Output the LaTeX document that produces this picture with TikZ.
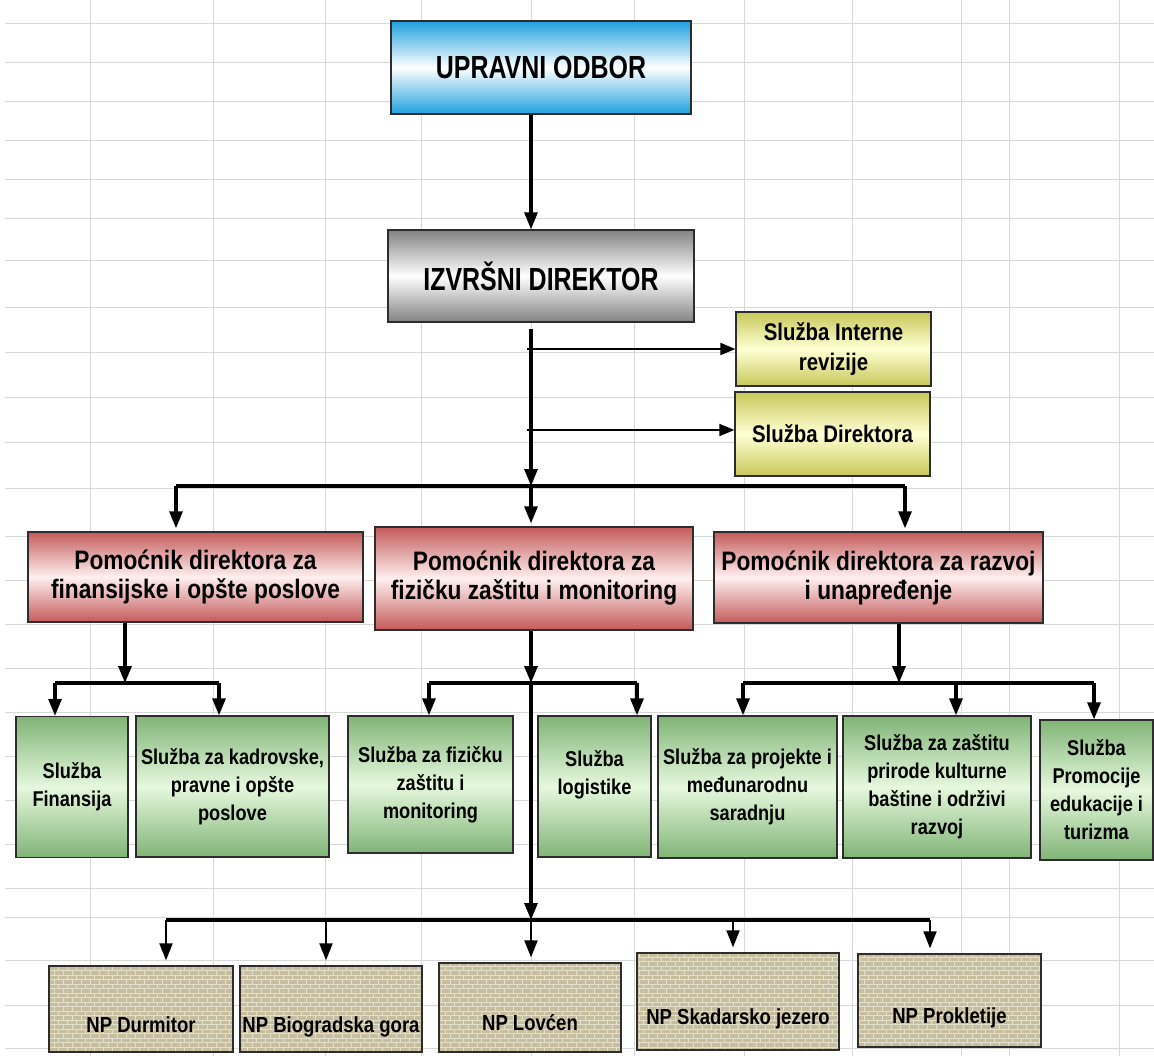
\documentclass[tikz,border=0pt]{standalone}
\usepackage{fontspec}
\setmainfont{Liberation Sans}[FakeStretch=0.85]
\newfontfamily\headfont{Liberation Sans}[FakeStretch=0.78]
\usetikzlibrary{arrows.meta,patterns,positioning}

\definecolor{gridgray}{RGB}{216,216,216}
\definecolor{boardblue}{RGB}{30,160,222}
\definecolor{chiefgray}{RGB}{130,130,130}
\definecolor{officeyellow}{RGB}{200,200,90}
\definecolor{officelight}{RGB}{255,255,212}
\definecolor{deputyred}{RGB}{196,90,90}
\definecolor{deputylight}{RGB}{255,240,240}
\definecolor{unitgreen}{RGB}{128,180,118}
\definecolor{unitlight}{RGB}{230,248,222}
\definecolor{parkbase}{RGB}{198,190,158}
\definecolor{parklight}{RGB}{228,224,206}
\definecolor{boxedge}{RGB}{45,45,45}

\pgfdeclarepatternformonly{parkbricks}{\pgfpoint{-0.5pt}{-0.5pt}}{\pgfpoint{9.5pt}{9.5pt}}{\pgfpoint{9pt}{9pt}}{
  \pgfsetlinewidth{0.8pt}
  \pgfpathmoveto{\pgfpoint{0pt}{0pt}}\pgfpathlineto{\pgfpoint{9pt}{0pt}}
  \pgfpathmoveto{\pgfpoint{0pt}{4.5pt}}\pgfpathlineto{\pgfpoint{9pt}{4.5pt}}
  \pgfpathmoveto{\pgfpoint{0pt}{0pt}}\pgfpathlineto{\pgfpoint{0pt}{4.5pt}}
  \pgfpathmoveto{\pgfpoint{4.5pt}{4.5pt}}\pgfpathlineto{\pgfpoint{4.5pt}{9pt}}
  \pgfusepath{stroke}
}

\begin{document}
\begin{tikzpicture}[
    x=1pt, y=-1pt,
    gridline/.style={
		draw=gridgray,
		line width=0.9pt
	},
    block/.style={
		rectangle,
		draw=boxedge,
		line width=1.3pt,
		text centered,
		align=center,
		inner sep=2pt
	},
    board/.style={
		block,
		font=\headfont\bfseries\fontsize{32}{36}\selectfont,
		top color=boardblue,
		bottom color=boardblue,
		middle color=white,
		minimum width=300pt,
		minimum height=93pt
	},
    chief/.style={
		block,
		font=\headfont\bfseries\fontsize{32}{36}\selectfont,
		top color=chiefgray,
		bottom color=chiefgray,
		middle color=white
	},
    office/.style={
		block,
		font=\bfseries\fontsize{24}{30}\selectfont,
		top color=officeyellow,
		bottom color=officeyellow,
		middle color=officelight,
		minimum width=195pt,
		minimum height=74pt
	},
    deputy/.style={
		block,
		font=\bfseries\fontsize{26.7}{29}\selectfont,
		top color=deputyred,
		bottom color=deputyred,
		middle color=deputylight
	},
    unitbox/.style={
		block,
		font=\bfseries\fontsize{21.4}{28}\selectfont,
		top color=unitgreen,
		bottom color=unitgreen,
		middle color=unitlight,
		minimum height=141pt
	},
    parkbox/.style={
		block,
		font=\bfseries\fontsize{21.8}{26}\selectfont,
		preaction={fill=parkbase},
		pattern=parkbricks,
		pattern color=parklight,
		text height=46pt,
		text depth=0pt,
		minimum height=86pt
	},
    arr/.style={
		-{Triangle[width=13pt,length=17pt]},
		line width=3.1pt
	},
    tap/.style={
		-{Triangle[width=12pt,length=15pt]},
		line width=1.8pt
	},
    stub/.style={
		-{Triangle[width=13pt,length=17pt]},
		line width=1.9pt,
		shorten >=5pt
	},
    bar/.style={
		line width=3.2pt
	}
  ]
    % the sheet behind the chart
  \useasboundingbox (0,0) rectangle (1154,1056);
  \fill [white] (0,0) rectangle (1154,1056);
  \foreach \gx in {90,213,325,421,531,634,744,852,961,1009,1119}
    \draw [gridline] (\gx,0) -- (\gx,1056);
  \foreach \gy in {23,62,101,140,179,218,260,307,352,397,442,488,536,580,624,668,712,756,800,844,888,917,960,1005,1048}
    \draw [gridline] (5,\gy) -- (1154,\gy);

    % We start by placing the blocks
  \node [board] (upravni) at (541,67.5) {UPRAVNI ODBOR};

  \node [chief, minimum width=306pt, minimum height=92pt] (izvrsni) at (541,276) {IZVRŠNI DIREKTOR};

  \node [office] (interne) at (833.5,349) {Služba Interne\\revizije};
  \node [office, minimum height=84pt] (direktora) at (832.5,434) {Služba Direktora};

  \node [deputy, minimum width=335pt, minimum height=90pt] (pomfin) at (195.5,577)
 {Pomoćnik direktora za\\finansijske i opšte poslove};
  \node [deputy, minimum width=318pt, minimum height=103pt] (pomfiz) at (534,578.5)
 {Pomoćnik direktora za\\fizičku zaštitu i monitoring};
  \node [deputy, minimum width=329pt, minimum height=91pt] (pomraz) at (878.5,577.5)
 {Pomoćnik direktora za razvoj\\i unapređenje};

  \node [unitbox, minimum width=112pt] (finansija) at (72,787) {Služba\\Finansija};
  \node [unitbox, minimum width=193pt] (kadrovske) at (232.5,786.5) {Služba za kadrovske,\\pravne i opšte\\poslove};
  \node [unitbox, minimum width=165pt, minimum height=137pt] (fizicka) at (430.5,784.5) {Služba za fizičku\\zaštitu i\\monitoring};
  \node [unitbox, minimum width=113pt] (logistika) at (594.5,786.5) {Služba\\logistike\\\mbox{}};
  \node [unitbox, minimum width=179pt, minimum height=142pt] (projekti) at (747.5,787) {Služba za projekte i\\međunarodnu\\saradnju};
  \node [unitbox, minimum width=188pt, minimum height=142pt] (zastita) at (937,787) {Služba za zaštitu\\prirode kulturne\\baštine i održivi\\razvoj};
  \node [unitbox, minimum width=113pt, minimum height=140pt] (promocija) at (1096.5,790) {Služba\\Promocije\\edukacije i\\turizma};

  \node [parkbox, minimum width=184pt] (durmitor) at (141,1009) {NP Durmitor};
  \node [parkbox, minimum width=182pt] (biogradska) at (331,1009) {NP Biogradska gora};
  \node [parkbox, minimum width=182pt, minimum height=89pt] (lovcen) at (530,1007.5) {NP Lovćen};
  \node [parkbox, minimum width=202pt, minimum height=97pt] (skadarsko) at (738,1001.5) {NP Skadarsko jezero};
  \node [parkbox, minimum width=183pt, minimum height=93pt] (prokletije) at (949.5,1000.5) {NP Prokletije};

    % branching points
  \coordinate (hubtop) at (531,486);
  \coordinate (hubtopl) at (176,486);
  \coordinate (hubtopr) at (905,486);
  \coordinate (hubfin) at (125,683);
  \coordinate (hubfinl) at (55,683);
  \coordinate (hubfinr) at (219,683);
  \coordinate (hubfiz) at (531,683);
  \coordinate (hubfizl) at (429,683);
  \coordinate (hubfizr) at (637,683);
  \coordinate (hubraz) at (899,683);
  \coordinate (hubrazl) at (743,683);
  \coordinate (hubrazm) at (956,683);
  \coordinate (hubrazr) at (1094,683);
  \coordinate (hubnp) at (531,920);
  \coordinate (hubnpl) at (166,920);
  \coordinate (hubnpb) at (326,920);
  \coordinate (hubnps) at (733,920);
  \coordinate (hubnpr) at (930,920);

 \draw [arr] (upravni.south -| hubtop) -- (izvrsni.north -| hubtop);
 \draw [arr, shorten <=6pt] (izvrsni.south -| hubtop) -- (hubtop);
 \draw [tap, shorten <=-4pt] (interne.west -| hubtop) -- (interne.west);
 \draw [tap, shorten <=-4pt] ([yshift=4pt]direktora.west -| hubtop) -- ([yshift=4pt]direktora.west);

 \draw [bar] (hubtopl) -- (hubtopr);
 \draw [arr, shorten >=3pt] (hubtopl) -- (hubtopl |- pomfin.north);
 \draw [arr, shorten >=3pt] (hubtop) -- (hubtop |- pomfiz.north);
 \draw [arr, shorten >=3pt] (hubtopr) -- (hubtopr |- pomraz.north);

 \draw [arr] (pomfin.south -| hubfin) -- (hubfin);
 \draw [bar] (hubfinl) -- (hubfinr);
 \draw [arr] (hubfinl) -- (hubfinl |- finansija.north);
 \draw [arr] (hubfinr) -- (hubfinr |- kadrovske.north);

 \draw [arr] (pomfiz.south -| hubfiz) -- (hubfiz);
 \draw [bar] (hubfizl) -- (hubfizr);
 \draw [arr] (hubfizl) -- (hubfizl |- fizicka.north);
 \draw [arr] (hubfizr) -- (hubfizr |- logistika.north);

 \draw [arr] (pomraz.south -| hubraz) -- (hubraz);
 \draw [bar] (hubrazl) -- (hubrazr);
 \draw [arr] (hubrazl) -- (hubrazl |- projekti.north);
 \draw [arr] (hubrazm) -- (hubrazm |- zastita.north);
 \draw [arr] (hubrazr) -- (hubrazr |- promocija.north);

 \draw [arr] (hubfiz) -- (hubnp);
 \draw [bar] (hubnpl) -- (hubnpr);
 \draw [stub] (hubnpl) -- (hubnpl |- durmitor.north);
 \draw [stub] (hubnpb) -- (hubnpb |- biogradska.north);
 \draw [stub] (hubnp) -- (hubnp |- lovcen.north);
 \draw [stub] (hubnps) -- (hubnps |- skadarsko.north);
 \draw [stub] (hubnpr) -- (hubnpr |- prokletije.north);

\end{tikzpicture}
\end{document}
